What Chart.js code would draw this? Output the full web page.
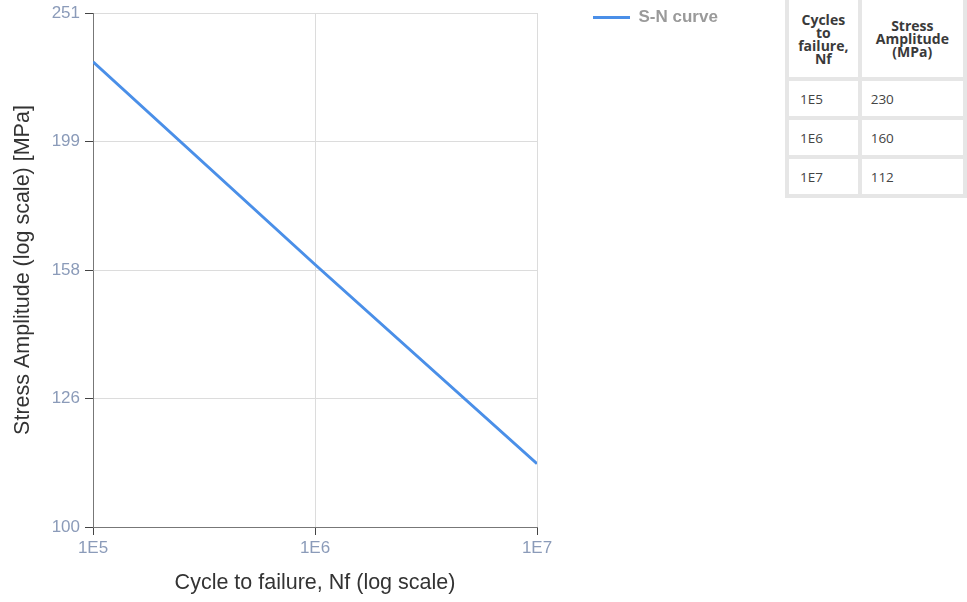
<!DOCTYPE html>
<html>
<head>
<meta charset="utf-8">
<script src="https://cdn.jsdelivr.net/npm/chart.js@4"></script>
<style>
  html, body { margin: 0; padding: 0; background: #fff; overflow: hidden; }
  #wrap { position: relative; width: 967px; height: 602px; }
  #snChart { position: absolute; left: 0; top: 0; }
  #snTable {
    position: absolute; left: 785px; top: -4px;
    border-collapse: separate; border-spacing: 4px;
    background: #e6e6e6; table-layout: fixed;
    font-family: "Open Sans", sans-serif;
  }
  #snTable th, #snTable td { background: #fff; box-sizing: border-box; }
  #snTable th {
    height: 77px; padding: 0; font-size: 14px; line-height: 13px;
    font-weight: 700; color: #3a3a3a; text-align: center; vertical-align: middle;
  }
  #snTable th.c1 { width: 77px; }
  #snTable th.c2 { width: 114px; }
  #snTable td { height: 35px; font-size: 13.5px; color: #444; vertical-align: middle; }
  #snTable td.c1 { padding-left: 11px; }
  #snTable td.c2 { padding-left: 9px; }
</style>
</head>
<body>
<div id="wrap">
  <canvas id="snChart" width="967" height="602"></canvas>
  <table id="snTable">
    <thead>
      <tr><th class="c1">Cycles<br>to<br>failure,<br>Nf</th><th class="c2">Stress<br>Amplitude<br>(MPa)</th></tr>
    </thead>
    <tbody id="snRows"></tbody>
  </table>
</div>
<script>
  const cycles = [1e5, 1e6, 1e7];
  const cycleLabels = ["1E5", "1E6", "1E7"];
  const stress = [230, 160, 112];

  const xTicks = [1e5, 1e6, 1e7];
  const yTicks = [100, 125.85, 158.39, 199.36, 251];

  const lineColor = "#4a8fe8";
  const tickColor = "#8b9bb9";
  const plotRight = 537;

  // table on the right
  const rows = document.getElementById("snRows");
  cycles.forEach((c, i) => {
    const tr = document.createElement("tr");
    tr.innerHTML = `<td class="c1">${cycleLabels[i]}</td><td class="c2">${stress[i]}</td>`;
    rows.appendChild(tr);
  });

  // keep the legend out beside the plot, like the original
  const legendSpot = {
    id: "legendSpot",
    beforeLayout(chart) {
      const legend = chart.legend;
      if (legend && !legend.fixedFit) {
        const fit = legend.fit.bind(legend);
        legend.fit = () => {
          fit();
          legend.width = chart.width - plotRight;
        };
        legend.fixedFit = true;
      }
    },
    afterLayout(chart) {
      const legend = chart.legend;
      if (!legend) {
        return;
      }
      legend.left = 583;
      legend.top = -1;
    }
  };

  function tickFont() {
    return { family: "'Liberation Sans', Arial, sans-serif", size: 17 };
  }

  new Chart(document.getElementById("snChart"), {
    type: "line",
    data: {
      datasets: [{
        label: "S-N curve",
        data: cycles.map((c, i) => ({ x: c, y: stress[i] })),
        borderColor: lineColor,
        backgroundColor: lineColor,
        borderWidth: 3,
        pointRadius: 0,
        tension: 0,
        fill: false
      }]
    },
    options: {
      responsive: false,
      animation: false,
      layout: { padding: { top: 13, left: 0, right: 0, bottom: 0 } },
      plugins: {
        legend: {
          position: "right",
          align: "start",
          labels: {
            usePointStyle: true,
            pointStyle: "line",
            pointStyleWidth: 37,
            padding: 10,
            color: "#9a9a9a",
            font: { family: "'Liberation Sans', Arial, sans-serif", size: 17, weight: "bold" }
          }
        },
        tooltip: { enabled: false }
      },
      scales: {
        x: {
          type: "logarithmic",
          min: 1e5,
          max: 1e7,
          afterBuildTicks: (scale) => {
            scale.ticks = xTicks.map((v) => ({ value: v }));
          },
          afterFit: (scale) => { scale.height = 75; },
          ticks: {
            color: tickColor,
            font: tickFont(),
            padding: 3,
            autoSkip: false,
            maxRotation: 0,
            callback: (value) => cycleLabels[xTicks.indexOf(value)] ?? ""
          },
          grid: { color: "#dcdcdc", tickColor: "#444", tickLength: 8 },
          border: { color: "#777", width: 1 },
          title: {
            display: true,
            text: "Cycle to failure, Nf (log scale)",
            color: "#333",
            font: { family: "'Liberation Sans', Arial, sans-serif", size: 21.5 },
            padding: { top: 4, bottom: 6 }
          }
        },
        y: {
          type: "logarithmic",
          min: 100,
          max: 251,
          afterBuildTicks: (scale) => {
            scale.ticks = yTicks.map((v) => ({ value: v }));
          },
          afterFit: (scale) => {
            scale.width = 93;
            scale.paddingTop = 0;
            scale.paddingBottom = 0;
          },
          ticks: {
            color: tickColor,
            font: tickFont(),
            padding: 5,
            autoSkip: false,
            callback: (value) => String(Math.round(value))
          },
          grid: { color: "#dcdcdc", tickColor: "#444", tickLength: 8 },
          border: { color: "#777", width: 1 },
          title: {
            display: true,
            text: "Stress Amplitude (log scale) [MPa]",
            color: "#333",
            font: { family: "'Liberation Sans', Arial, sans-serif", size: 21.5 },
            padding: { top: 10, bottom: 0 }
          }
        }
      }
    },
    plugins: [legendSpot]
  });
</script>
</body>
</html>
